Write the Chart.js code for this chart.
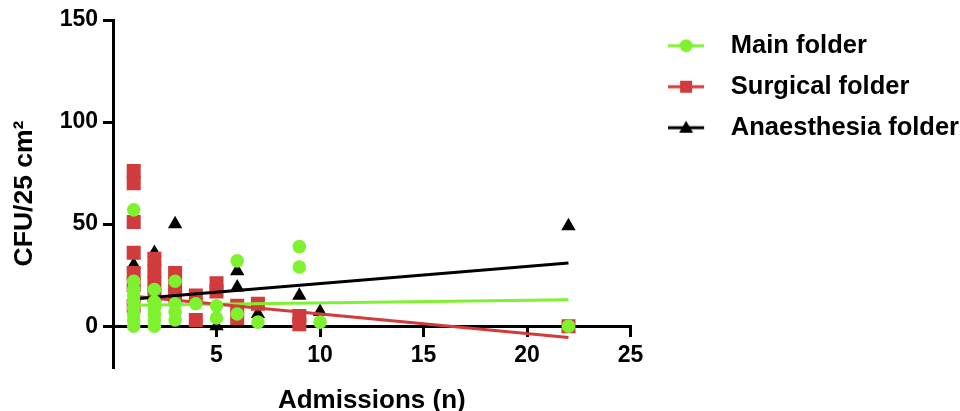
<!DOCTYPE html>
<html>
<head>
<meta charset="utf-8">
<script src="https://cdn.jsdelivr.net/npm/chart.js@4/dist/chart.umd.min.js"></script>
<style>
  html, body { margin: 0; padding: 0; background: #fff; }
  #wrap { width: 960px; height: 411px; }
</style>
</head>
<body>
<div id="wrap"><canvas id="cfuChart"></canvas></div>
<script>
// axis ticks
var xTicks = [5, 10, 15, 20, 25];
var yTicks = [0, 50, 100, 150];

// Main folder
var mainAdmissions = [1, 1, 1, 1, 1, 1, 1, 1, 1, 2, 2, 2, 2, 2, 2, 3, 3, 3, 3, 4, 5, 5, 6, 6, 7, 9, 9, 10, 22];
var mainCfu = [57, 22, 18, 15, 12, 9, 6, 3, 0, 18, 12, 9, 6, 3, 0, 22, 11, 7, 3, 11, 10, 4, 32, 6, 2, 39, 29, 2, 0];

// Surgical folder
var surgicalAdmissions = [1, 1, 1, 1, 1, 1, 1, 2, 2, 2, 2, 3, 3, 3, 4, 4, 5, 5, 6, 6, 7, 9, 9, 22];
var surgicalCfu = [76, 70, 51, 36, 26, 20, 10, 33, 27, 21, 15, 26, 20, 15, 15, 3, 21, 17, 10, 4, 11, 5, 1, 0];

// Anaesthesia folder
var anaesAdmissions = [1, 1, 2, 3, 3, 5, 6, 6, 7, 9, 10, 22];
var anaesCfu = [30, 14, 36, 50, 16, 0, 27, 19, 6, 15, 7, 49];

// linear fits (end points)
var fitAdmissions = [1, 22];
var mainFit = [10.3, 13];
var surgicalFit = [14.7, -5.5];
var anaesFit = [13.3, 31];

var green = '#7ff230';
var red = '#d03b3b';
var black = '#000000';

function pts(xs, ys) {
    return xs.map(function (x, i) { return { x: x, y: ys[i] }; });
}

// legend icon: short line with marker in the middle
function makeIcon(color, shape) {
    var c = document.createElement('canvas');
    c.width = 50;
    c.height = 20;
    var g = c.getContext('2d');
    g.strokeStyle = color;
    g.fillStyle = color;
    g.lineWidth = 3;
    g.beginPath();
    g.moveTo(0, 10);
    g.lineTo(36, 10);
    g.stroke();
    g.beginPath();
    if (shape === 'circle') {
        g.arc(18, 10, 6.5, 0, Math.PI * 2);
    } else if (shape === 'rect') {
        g.rect(12, 4, 12, 12);
    } else {
        g.moveTo(18, 3);
        g.lineTo(25, 15);
        g.lineTo(11, 15);
        g.closePath();
    }
    g.fill();
    return c;
}

var icons = [makeIcon(green, 'circle'), makeIcon(red, 'rect'), makeIcon(black, 'triangle')];

Chart.defaults.font.family = "'Liberation Sans', Arial, Helvetica, sans-serif";
Chart.defaults.font.weight = 'bold';
Chart.defaults.color = '#000';

var ctx = document.getElementById('cfuChart').getContext('2d');
var cfuChart = new Chart(ctx, {
    type: 'scatter',
    data: {
        datasets: [{
            label: 'Main folder',
            data: pts(mainAdmissions, mainCfu),
            pointStyle: 'circle',
            pointRadius: 6.8,
            backgroundColor: green,
            borderColor: green,
            borderWidth: 0
        }, {
            label: 'anaes fit',
            data: pts(fitAdmissions, anaesFit),
            showLine: true,
            pointRadius: 0,
            borderColor: black,
            borderWidth: 3
        }, {
            label: 'surgical fit',
            data: pts(fitAdmissions, surgicalFit),
            showLine: true,
            pointRadius: 0,
            borderColor: red,
            borderWidth: 3
        }, {
            label: 'main fit',
            data: pts(fitAdmissions, mainFit),
            showLine: true,
            pointRadius: 0,
            borderColor: green,
            borderWidth: 3
        }, {
            label: 'Surgical folder',
            data: pts(surgicalAdmissions, surgicalCfu),
            pointStyle: 'rect',
            pointRadius: 9.9,
            backgroundColor: red,
            borderColor: red,
            borderWidth: 0
        }, {
            label: 'Anaesthesia folder',
            data: pts(anaesAdmissions, anaesCfu),
            pointStyle: 'triangle',
            pointRadius: 8.3,
            backgroundColor: black,
            borderColor: black,
            borderWidth: 0
        }]
    },
    options: {
        responsive: true,
        maintainAspectRatio: false,
        animation: false,
        layout: {
            padding: { left: 0, top: 17.5, right: -9, bottom: 44 }
        },
        scales: {
            x: {
                type: 'linear',
                min: 0,
                max: 25,
                position: { y: 0 },
                afterBuildTicks: function (s) {
                    s.ticks = xTicks.map(function (v) { return { value: v }; });
                },
                grid: { drawOnChartArea: false, tickLength: 9, lineWidth: 3, color: black },
                border: { color: black, width: 3 },
                ticks: { font: { size: 23, weight: 'bold' }, padding: 7, color: black, maxRotation: 0 },
                title: {
                    display: true,
                    text: 'Admissions (n)',
                    font: { size: 26, weight: 'bold' },
                    color: black,
                    padding: { top: 8, bottom: 0 }
                }
            },
            y: {
                type: 'linear',
                position: 'left',
                min: -20,
                max: 150,
                afterBuildTicks: function (s) {
                    s.ticks = yTicks.map(function (v) { return { value: v }; });
                },
                afterFit: function (s) {
                    s.width = 113;
                    s.paddingTop = 20;
                },
                grid: { drawOnChartArea: false, tickLength: 10, lineWidth: 3, color: black },
                border: { color: black, width: 3 },
                ticks: { font: { size: 23, weight: 'bold' }, padding: 5, color: black },
                title: {
                    display: true,
                    text: 'CFU/25 cm²',
                    font: { size: 26.5, weight: 'bold' },
                    color: black,
                    padding: { top: 9, bottom: 0 }
                }
            },
            gap: {
                type: 'linear',
                position: 'right',
                display: true,
                grid: { display: false, drawTicks: false },
                border: { display: false },
                ticks: { display: false },
                afterFit: function (s) {
                    s.width = 22;
                }
            }
        },
        plugins: {
            tooltip: { enabled: false },
            legend: {
                position: 'right',
                align: 'start',
                maxWidth: 420,
                labels: {
                    usePointStyle: true,
                    pointStyleWidth: 50,
                    padding: 15.5,
                    color: black,
                    font: { size: 25.5, weight: 'bold' },
                    generateLabels: function (chart) {
                        return [0, 4, 5].map(function (di, i) {
                            return {
                                text: chart.data.datasets[di].label,
                                pointStyle: icons[i],
                                fillStyle: chart.data.datasets[di].backgroundColor,
                                strokeStyle: chart.data.datasets[di].borderColor,
                                lineWidth: 0,
                                hidden: false,
                                datasetIndex: di
                            };
                        });
                    }
                }
            }
        }
    }
});
</script>
</body>
</html>
